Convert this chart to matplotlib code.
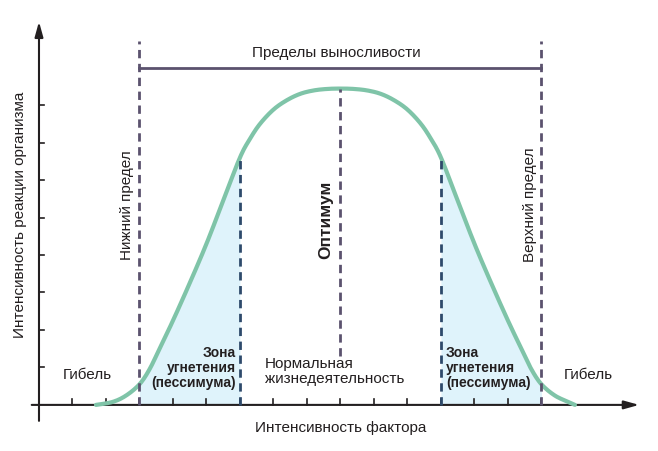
import matplotlib
matplotlib.use("Agg")
import matplotlib.pyplot as plt
import numpy as np

plt.rcParams['font.family'] = ['Liberation Sans', 'DejaVu Sans']

curve_x = [1.7, 2.2, 2.6, 3.0, 3.3, 3.6, 4.0, 4.5, 5.0, 5.5, 6.0, 6.3, 6.6, 7.0, 7.4, 7.8, 8.2, 8.6, 9.0,
           9.4, 9.8, 10.2, 10.6, 11.0, 11.4, 11.7, 12.0, 12.5, 13.0, 13.5, 14.0, 14.4, 14.7, 15.0, 15.4, 15.8, 16.0]
curve_y = [0.0, 0.08, 0.25, 0.55, 0.95, 1.5, 2.25, 3.25, 4.3, 5.45, 6.6, 7.1, 7.5, 7.88, 8.13, 8.3, 8.39, 8.43, 8.44,
           8.43, 8.39, 8.3, 8.13, 7.88, 7.5, 7.1, 6.6, 5.45, 4.3, 3.25, 2.25, 1.5, 0.95, 0.55, 0.25, 0.08, 0.0]
limits = [3, 15]
zone_edges = [6, 12]
optimum = 9
x_ticks = list(range(1, 16))
y_ticks = list(range(1, 9))


def catmull(xs, ys, n=12):
    px, py = [], []
    P = list(zip(xs, ys))
    P = [P[0]] + P + [P[-1]]
    for i in range(1, len(P) - 2):
        p0, p1, p2, p3 = map(np.array, (P[i - 1], P[i], P[i + 1], P[i + 2]))
        for t in np.linspace(0, 1, n, endpoint=False):
            pt = 0.5 * ((2 * p1) + (-p0 + p2) * t + (2 * p0 - 5 * p1 + 4 * p2 - p3) * t ** 2
                        + (-p0 + 3 * p1 - 3 * p2 + p3) * t ** 3)
            px.append(pt[0]); py.append(pt[1])
    px.append(xs[-1]); py.append(ys[-1])
    return np.array(px), np.array(py)


fig = plt.figure(figsize=(6.58, 4.52), dpi=100)
ax = fig.add_axes([0, 0, 1, 1])
ax.set_xlim(-1.164, 18.48)
ax.set_ylim(-1.23, 10.83)
ax.axis('off')

ac = '#231f20'
ax.annotate('', xy=(18.0, 0), xytext=(-0.3, 0),
            arrowprops=dict(arrowstyle='-|>,head_length=0.9,head_width=0.25', color=ac, lw=1.5))
ax.annotate('', xy=(0, 10.3), xytext=(0, -0.5),
            arrowprops=dict(arrowstyle='-|>,head_length=0.9,head_width=0.25', color=ac, lw=1.5))
for t in x_ticks:
    ax.plot([t, t], [0, 0.15], color=ac, lw=1.2)
for t in y_ticks:
    ax.plot([0, 0.15], [t, t], color=ac, lw=1.2)

cx, cy = catmull(curve_x, curve_y)
fill = '#dff3fb'
m1 = (cx >= limits[0]) & (cx <= zone_edges[0])
m2 = (cx >= zone_edges[1]) & (cx <= limits[1])
ax.fill_between(cx[m1], 0, cy[m1], color=fill, lw=0)
ax.fill_between(cx[m2], 0, cy[m2], color=fill, lw=0)
ax.plot(cx, cy, color='#7fc4a8', lw=3, solid_capstyle='round', zorder=3)

dc = '#5b526e'
for L in limits:
    ax.plot([L, L], [0, 9.7], color=dc, lw=2, ls=(0, (3, 2)), zorder=4)
ax.plot([limits[0], limits[1]], [9.0, 9.0], color=dc, lw=2)
for z in zone_edges:
    ax.plot([z, z], [0, 6.6], color='#2e4a6b', lw=2, ls=(0, (3, 2)), zorder=4)
ax.plot([optimum, optimum], [1.3, 8.44], color=dc, lw=2, ls=(0, (3, 2)), zorder=4)

tc = '#231f20'
fs = 11
ax.text(8.88, 9.41, 'Пределы выносливости', ha='center', va='center', fontsize=fs, color=tc)
ax.text(2.62, 5.36, 'Нижний предел', rotation=90, ha='center', va='center', fontsize=fs, color=tc)
ax.text(14.65, 5.36, 'Верхний предел', rotation=90, ha='center', va='center', fontsize=fs, color=tc)
ax.text(8.55, 4.96, 'Оптимум', rotation=90, ha='center', va='center', fontsize=12.5, fontweight='bold', color=tc)
ax.text(1.43, 0.83, 'Гибель', ha='center', va='center', fontsize=fs, color=tc)
ax.text(16.4, 0.83, 'Гибель', ha='center', va='center', fontsize=fs, color=tc)
ax.text(5.88, 1.01, 'Зона\nугнетения\n(пессимума)', ha='right', va='center', fontsize=10,
        fontweight='bold', color=tc, linespacing=1.1)
ax.text(12.15, 1.01, 'Зона\nугнетения\n(пессимума)', ha='left', va='center', fontsize=10,
        fontweight='bold', color=tc, linespacing=1.1)
ax.text(6.75, 0.91, 'Нормальная\nжизнедеятельность', ha='left', va='center', fontsize=fs, color=tc,
        linespacing=1.1)
ax.text(9.0, -0.59, 'Интенсивность фактора', ha='center', va='center', fontsize=fs, color=tc)
ax.text(-0.56, 5.1, 'Интенсивность реакции организма', rotation=90, ha='center', va='center',
        fontsize=fs, color=tc)

fig.savefig('out.png', dpi=100)
